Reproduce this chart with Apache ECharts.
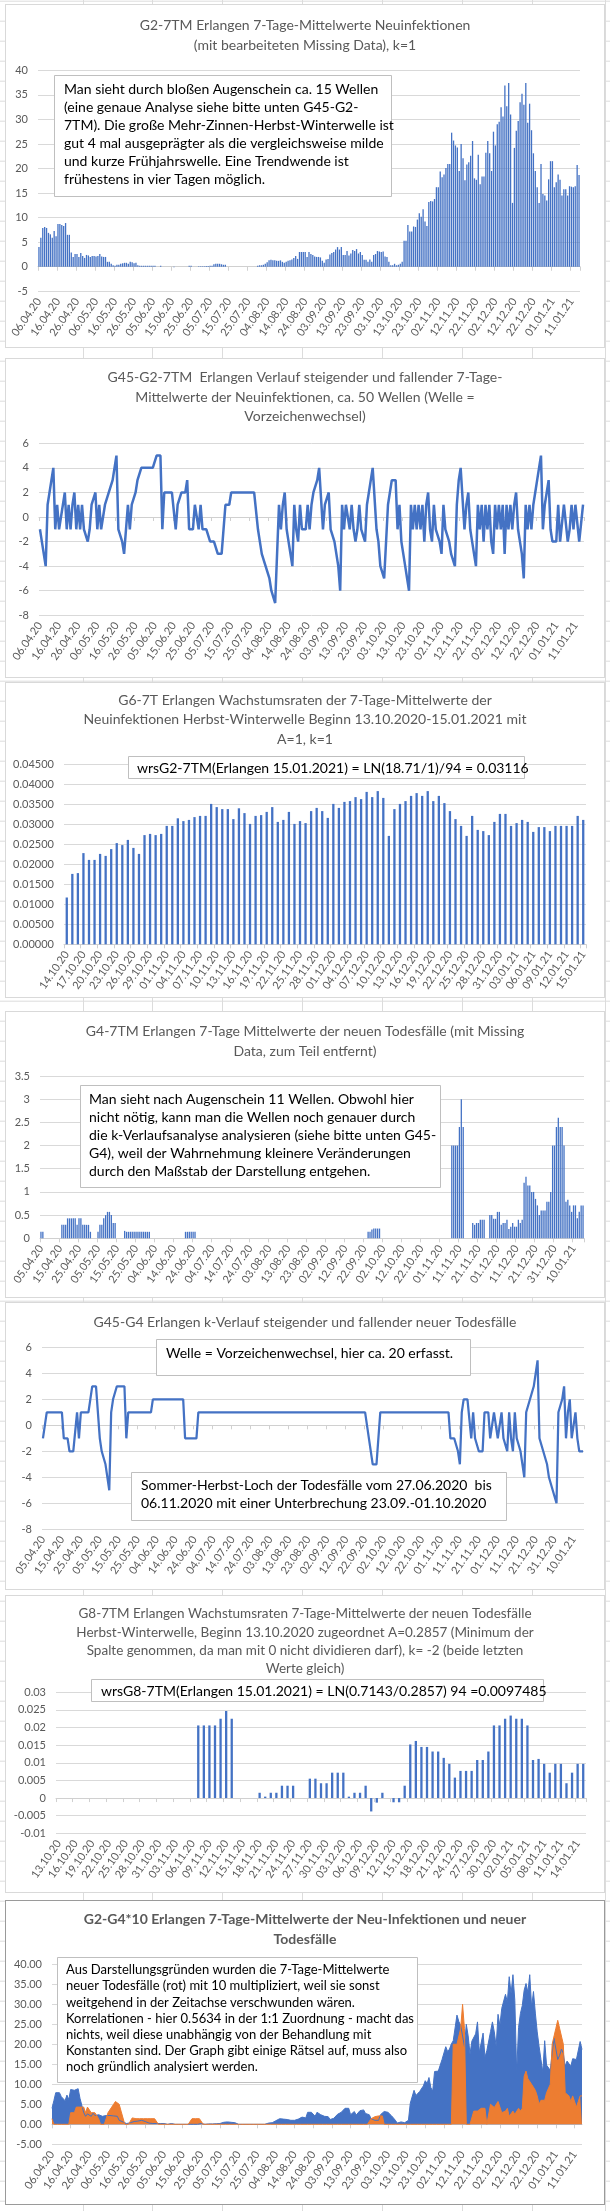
<!DOCTYPE html>
<html><head><meta charset="utf-8">
<script src="https://cdn.jsdelivr.net/npm/echarts@6/dist/echarts.min.js"></script>
<style>
html,body{margin:0;padding:0;}
body{width:610px;height:2211px;position:relative;overflow:hidden;background-color:#fff;
background-image:linear-gradient(to bottom,#dcdcdc 0,#dcdcdc 1px,transparent 1px);background-size:100% 20px;background-position:0 0.7px;}
.vl{position:absolute;top:0;width:1px;height:2211px;background:#dcdcdc;}
.panel{position:absolute;left:5px;width:600px;box-sizing:border-box;border:1px solid #d9d9d9;background:#fff;}
</style></head>
<body>
<div class="vl" style="left:83px"></div><div class="vl" style="left:152px"></div><div class="vl" style="left:222px"></div>
<div class="vl" style="left:302px"></div><div class="vl" style="left:382px"></div><div class="vl" style="left:462px"></div>
<div class="vl" style="left:532px"></div><div class="vl" style="left:605px"></div>
<div id="c1" class="panel" style="top:4px;height:344px"></div>
<div id="c2" class="panel" style="top:358px;height:320px"></div>
<div id="c3" class="panel" style="top:682px;height:316px"></div>
<div id="c4" class="panel" style="top:1011px;height:287px"></div>
<div id="c5" class="panel" style="top:1302px;height:288px"></div>
<div id="c6" class="panel" style="top:1595px;height:298px"></div>
<div id="c7" class="panel" style="top:1900px;height:305px;border-color:#9a9a9a"></div>
<script>
// ---------- DATA ----------
// G2-7TM: 7-day means of new infections, 06.04.20 - 15.01.21
const newInf = [
4.0,5.9,7.9,8.1,7.9,6.9,6.6,5.9,7.3,6.2,
8.7,8.7,8.5,8.3,8.9,6.5,6.5,2.9,2.0,2.6,
2.6,2.0,2.8,2.2,1.8,2.4,2.3,2.0,2.2,2.2,
2.1,2.2,2.6,2.1,2.0,2.0,1.0,1.0,0.6,0.3,
0.2,0.4,0.4,0.6,0.7,0.8,0.8,0.6,1.0,0.9,
0.7,0.8,0.3,0.2,0.2,0.2,0.2,0.2,0.2,0.2,
0.2,0.2,0,0,0.2,0,0,0,0,0,
0,-0.1,0,0,0,0,0,0,0,0.2,
0.2,0,0,0,0.1,0.1,0.1,0.1,0.15,0.15,
0.2,0.2,0.5,0.6,0.6,0.6,0.5,0.4,0.4,0,
0,0,0,0,0,0,0,0,0,0,
0,0,0,0,0,0.2,0.3,0.3,0.4,0.6,
0.9,1.3,1.4,1.3,1.3,1.2,1.2,1.3,1.0,0.8,
1.0,1.2,1.3,1.5,1.8,2.2,1.6,3.0,3.0,3.0,
3.0,2.0,3.0,2.6,2.4,2.1,2.0,2.0,1.9,1.2,
0.8,1.5,1.6,2.5,2.8,3.0,3.5,4.0,3.5,4.0,
2.4,2.4,3.2,2.3,2.7,3.4,3.2,3.6,2.7,3.0,
2.4,1.4,1.4,1.0,1.5,1.0,2.4,2.6,3.2,3.1,
3.0,3.1,2.1,2.0,1.0,0.3,0.3,0.6,0.3,0.4,
0.6,1.0,5.3,5.3,8.5,7.2,7.2,8.2,8.1,9.6,
10.9,10.2,11.7,9.2,8.3,13.2,13.4,13.3,13.8,16.2,
16.2,19.4,18.2,18.8,20.1,20.9,20.9,27.3,25.7,24.7,
24.3,19.5,25.0,22.1,17.6,20.8,21.3,22.6,25.6,18.0,
17.7,22.8,16.8,18.4,18.4,23.2,25.6,23.1,19.5,27.5,
24.7,29.0,29.5,32.5,30.6,36.9,32.7,37.4,31.0,13.0,
24.2,27.7,29.7,33.5,35.2,33.0,37.4,29.3,33.2,27.8,
23.1,19.5,16.2,13.0,20.9,14.8,14.5,13.5,17.8,21.5,
21.5,16.2,17.2,18.8,17.7,14.5,15.8,15.8,14.5,16.4,
16.3,16.2,16.4,20.7,18.7];

// G45-G2-7TM: k course of new infections, 06.04.20 - 15.01.21
const kInf = [
-1,-2,-3,-4,1,2,3,4,-1,1,
-1,-1,1,2,-1,1,-1,1,2,-1,
1,-1,1,-1,-1,-2,-1,1,1,2,
-1,1,-1,-1,1,1,2,2,3,4,
5,-1,-1,-2,-3,-3,1,-1,1,1,
2,3,3,4,4,4,4,4,4,4,
4,5,5,5,-1,2,2,2,2,2,
2,-1,1,1,2,2,2,3,-1,-1,
-1,1,1,-1,1,-1,-1,-1,-1,-2,
-2,-2,-2,-3,-3,-3,-3,1,1,1,
2,2,2,2,2,2,2,2,2,2,
2,2,2,2,-1,-2,-3,-3,-4,-4,
-5,-6,-6,-7,-7,1,-1,1,2,-1,
-2,-3,-4,1,-1,-2,1,-1,-1,-1,
1,-1,1,2,2,3,4,4,-1,1,
1,2,-1,-1,-2,-3,-4,-6,1,-1,
1,1,-1,1,-1,-2,-1,1,-1,-1,
-2,1,2,3,4,4,-1,-2,-4,-4,
-5,-5,1,2,3,3,3,-1,1,-2,
-3,-4,-5,-6,1,-1,1,-1,1,-1,
1,-2,1,2,-1,-2,1,-1,-1,-2,
-3,1,-1,-1,-2,-3,-3,-4,1,3,
4,4,-1,1,2,-1,-2,-3,-4,1,
-1,1,-2,1,-1,1,-2,-3,1,-1,
1,-1,1,-3,1,-1,1,-1,1,2,
-1,-2,-3,-5,1,-1,1,-1,1,2,
3,4,5,-1,1,2,3,-1,-2,-2,
-2,1,-2,-2,1,1,-2,-1,1,-1,
1,1,-2,-2,1];

// G6-7T: growth rates of new infections, 14.10.20 - 15.01.21
const wrsInf = [
0.0117,0.0176,0.0178,0.0228,0.0211,0.0211,0.0226,0.0221,0.0238,0.0253,
0.0248,0.0261,0.0241,0.0226,0.0273,0.0276,0.0273,0.0276,0.0296,0.0296,
0.0315,0.0308,0.0311,0.0318,0.0321,0.0321,0.0351,0.0343,0.0338,0.0338,
0.0313,0.0340,0.0328,0.0301,0.0321,0.0323,0.0331,0.0343,0.0306,0.0311,
0.0331,0.0301,0.0308,0.0303,0.0333,0.0341,0.0333,0.0316,0.0351,0.0341,
0.0356,0.0358,0.0368,0.0363,0.0381,0.0368,0.0383,0.0366,0.0271,0.0338,
0.0351,0.0358,0.0371,0.0378,0.0371,0.0383,0.0358,0.0371,0.0353,0.0333,
0.0313,0.0296,0.0271,0.0321,0.0286,0.0283,0.0273,0.0306,0.0326,0.0326,
0.0296,0.0303,0.0311,0.0306,0.0281,0.0293,0.0293,0.0283,0.0296,0.0296,
0.0296,0.0296,0.0321,0.0311];

// G4-7TM: 7-day means of new deaths, 05.04.20 - 15.01.21
const deaths = [
0.14,0.14,0,0,0,0,0,0,0,0,
0,0.29,0.29,0.29,0.43,0.43,0.43,0.43,0.43,0.29,
0.43,0.43,0.29,0.29,0.29,0.29,0.14,0,0,0,
0.14,0.29,0.29,0.43,0.5,0.57,0.57,0.5,0.33,0.33,
0,0,0,0,0.16,0.14,0.14,0.14,0.14,0.14,
0.14,0.14,0.14,0.14,0.14,0.14,0.14,0.14,0,0,
0,0,0,0,0,0,0,0,0,0,
0,0,0,0,0,0,0.14,0.14,0.14,0.14,
0.14,0.14,0,0,0,0,0,0,0,0,
0,0,0,0,0,0,0,0,0,0,
0,0,0,0,0,0,0,0,0,0,
0,0,0,0,0,0,0,0,0,0,
0,0,0,0,0,0,0,0,0,0,
0,0,0,0,0,0,0,0,0,0,
0,0,0,0,0,0,0,0,0,0,
0,0,0,0,0,0,0,0,0,0,
0,0,0,0,0,0,0,0,0,0,
0,0,0.14,0.14,0.19,0.21,0.21,0.21,0.21,0,
0,0,0,0,0,0,0,0,0,0,
0,0,0,0,0,0,0,0,0,0,
0,0,0,0,0,0,0,0,0,0,
0,0,0,0,0,0,2.0,2.0,2.0,2.0,
2.4,3.0,2.4,0,0,0,0,0.33,0.29,0.33,
0.33,0.4,0.4,0.4,0,0,0.5,0.5,0.42,0.42,
0.57,0.57,0.29,0.33,0.33,0.4,0.2,0.25,0.33,0.25,
0.25,0.4,0.33,0.4,1.2,1.33,1.14,1.14,1.0,1.0,
0.85,0.71,0.5,0.6,0.6,0.6,0.79,0.79,1.0,2.0,
2.0,2.4,2.6,2.4,2.4,2.0,0.79,0.83,0.71,0.57,
0.71,0.71,0.43,0.57,0.71,0.71];

// G45-G4: k course of deaths, 05.04.20 - 15.01.21
const kDeaths = [
-1,-1,1,1,1,1,1,1,1,1,
1,-1,-1,-1,-2,-2,-2,-2,1,-1,
1,1,1,1,1,2,3,3,3,3,
-1,-2,-2,-3,-4,-5,1,2,2,3,
3,3,3,3,-1,1,1,1,1,1,
1,1,1,1,1,1,1,1,2,2,
2,2,2,2,2,2,2,2,2,2,
2,2,2,2,2,-1,-1,-1,-1,-1,
-1,-1,1,1,1,1,1,1,1,1,
1,1,1,1,1,1,1,1,1,1,
1,1,1,1,1,1,1,1,1,1,
1,1,1,1,1,1,1,1,1,1,
1,1,1,1,1,1,1,1,1,1,
1,1,1,1,1,1,1,1,1,1,
1,1,1,1,1,1,1,1,1,1,
1,1,1,1,1,1,1,1,1,1,
1,1,1,1,1,1,1,1,1,1,
1,1,-1,-2,-3,-3,-3,-3,1,1,
1,1,1,1,1,1,1,1,1,1,
1,1,1,1,1,1,1,1,1,1,
1,1,1,1,1,1,1,1,1,1,
1,1,1,1,1,-1,-1,-1,-1,-2,
-3,1,2,2,2,2,-1,1,-1,-1,
-2,-2,-2,1,1,1,-1,-1,1,1,
-1,-1,1,-1,-1,-2,1,-1,-2,1,
-1,-1,-2,-3,-4,1,1,2,2,3,
4,5,-1,-1,-2,-2,-3,-4,-4,-5,
-5,-6,1,1,2,3,-1,1,2,-1,
-1,1,-1,-2,-2,-2];

// G8-7TM: growth rates of deaths, 13.10.20 - 15.01.21
const wrsDeaths = [
0,0,0,0,0,0,0,0,0,0,
0,0,0,0,0,0,0,0,0,0,
0,0,0,0,0,0.0206,0.0206,0.0206,0.0206,0.0225,
0.0247,0.0225,0,0,0,0,0.0015,0.0004,0.0015,0.0015,
0.0035,0.0035,0.0035,0,0,0.0055,0.0055,0.0042,0.0042,0.0072,
0.0072,0.0072,0.0004,0.0015,0.0015,0.0035,-0.0038,-0.0013,0.0015,0,
-0.0012,-0.0012,0.0035,0.0152,0.0162,0.0145,0.0145,0.0132,0.0132,0.0114,
0.0097,0.0058,0.0077,0.0077,0.0077,0.0108,0.0108,0.0132,0.0206,0.0206,
0.0225,0.0234,0.0225,0.0225,0.0206,0.0108,0.0111,0.0097,0.0072,0.0097,
0.0097,0.0042,0.0072,0.0097,0.0097];

// G4*10 aligned to 06.04.20 start (deaths × 10, as in chart title)
const deathsX10 = deaths.slice(1).map(v => +(v * 10).toFixed(2));

function mkDates(y, m, d, n) {
  const out = [];
  for (let i = 0; i < n; i++) {
    const t = new Date(Date.UTC(y, m - 1, d + i));
    out.push(String(t.getUTCDate()).padStart(2, '0') + '.' +
             String(t.getUTCMonth() + 1).padStart(2, '0') + '.' +
             String(t.getUTCFullYear()).slice(2));
  }
  return out;
}
const cat0604 = mkDates(2020, 4, 6, newInf.length);
const cat0504 = mkDates(2020, 4, 5, deaths.length);
const cat1410 = mkDates(2020, 10, 14, wrsInf.length);
const cat1310 = mkDates(2020, 10, 13, wrsDeaths.length);

// ---------- STYLE HELPERS ----------
const FONT = 'Lato, "Liberation Sans", sans-serif';
const GRAY = '#595959';
const BLUE = '#4472C4';
const ORANGE = '#ED7D31';
const ROT = 55;

function xAxes(cats, iv, boundaryGap) {
  return [{
    type: 'category', data: cats, boundaryGap: boundaryGap, position: 'bottom',
    axisLine: {show: false, onZero: false}, axisTick: {show: false},
    axisLabel: {interval: iv, rotate: ROT, color: GRAY, fontFamily: FONT, fontSize: 11, margin: 8},
    splitLine: {show: false}
  }, {
    type: 'category', data: cats, boundaryGap: boundaryGap, position: 'bottom',
    axisLine: {show: true, onZero: true, lineStyle: {color: '#d0d0d0', width: 1}},
    axisTick: {show: true, interval: iv, length: 4, lineStyle: {color: '#d0d0d0'}},
    axisLabel: {show: false}, splitLine: {show: false}
  }];
}
function yAx(min, max, interval, fmt) {
  return {type: 'value', min: min, max: max, interval: interval,
    axisLine: {show: false}, axisTick: {show: false},
    splitLine: {lineStyle: {color: '#d9d9d9', width: 1}},
    axisLabel: {color: GRAY, fontFamily: FONT, fontSize: 11, margin: 10, formatter: fmt}};
}
function ttl(text, top, lh, fs, bold) {
  return {text: text, left: 'center', top: top, padding: 0, itemGap: 0,
    textStyle: {fontFamily: FONT, fontSize: fs || 14, fontWeight: bold ? 'bold' : 'normal', color: GRAY, lineHeight: lh}};
}
function box(x, y, w, h, tx, ty, text, fs, lh) {
  return [
    {type: 'rect', z: 100, shape: {x: x + 0.5, y: y + 0.5, width: w, height: h},
     style: {fill: '#fff', stroke: '#bfbfbf', lineWidth: 1}},
    {type: 'text', z: 101, x: tx, y: ty,
     style: {text: text, fill: '#000', font: fs + 'px ' + FONT, lineHeight: lh, verticalAlign: 'top'}}
  ];
}
function mk(id, opt) {
  const c = echarts.init(document.getElementById(id), null, {renderer: 'canvas'});
  opt.animation = false;
  c.setOption(opt);
}
const f0 = v => String(v);

// ---------- PANEL 1 ----------
mk('c1', {
  title: ttl('G2-7TM Erlangen 7-Tage-Mittelwerte Neuinfektionen\n(mit bearbeiteten Missing Data), k=1', 10, 20),
  grid: {left: 32, top: 65.3, width: 542, height: 221},
  xAxis: xAxes(cat0604, 9, true),
  yAxis: yAx(-5, 40, 5, f0),
  series: [{type: 'bar', data: newInf, barWidth: 1.3, itemStyle: {color: BLUE}}],
  graphic: box(48, 70, 337, 121, 58, 75.5,
    'Man sieht durch bloßen Augenschein ca. 15 Wellen\n(eine genaue Analyse siehe bitte unten G45-G2-\n7TM). Die große Mehr-Zinnen-Herbst-Winterwelle ist\ngut 4 mal ausgeprägter als die vergleichsweise milde\nund kurze Frühjahrswelle. Eine Trendwende ist\nfrühestens in vier Tagen möglich.', 14, 18)
});

// ---------- PANEL 2 ----------
mk('c2', {
  title: ttl('G45-G2-7TM  Erlangen Verlauf steigender und fallender 7-Tage-\nMittelwerte der Neuinfektionen, ca. 50 Wellen (Welle =\nVorzeichenwechsel)', 9, 19.5),
  grid: {left: 33, top: 84.3, width: 545, height: 172},
  xAxis: xAxes(cat0604, 9, true),
  yAxis: yAx(-8, 6, 2, f0),
  series: [{type: 'line', data: kInf, symbol: 'none', lineStyle: {color: BLUE, width: 2.5}, itemStyle: {color: BLUE}}]
});

// ---------- PANEL 3 ----------
mk('c3', {
  title: ttl('G6-7T Erlangen Wachstumsraten der 7-Tage-Mittelwerte der\nNeuinfektionen Herbst-Winterwelle Beginn 13.10.2020-15.01.2021 mit\nA=1, k=1', 7.3, 19.5),
  grid: {left: 58, top: 81.3, width: 522, height: 180},
  xAxis: xAxes(cat1410, 2, true),
  yAxis: yAx(0, 0.045, 0.005, v => v.toFixed(5)),
  series: [{type: 'bar', data: wrsInf, barWidth: 2.3, itemStyle: {color: BLUE}}],
  graphic: box(122, 73, 396, 22, 131, 76, 'wrsG2-7TM(Erlangen 15.01.2021) = LN(18.71/1)/94 = 0.03116', 14, 18)
});

// ---------- PANEL 4 ----------
mk('c4', {
  title: ttl('G4-7TM Erlangen 7-Tage Mittelwerte der neuen Todesfälle (mit Missing\nData, zum Teil entfernt)', 9, 20),
  grid: {left: 34, top: 64, width: 544, height: 162.3},
  xAxis: xAxes(cat0504, 9, true),
  yAxis: yAx(0, 3.5, 0.5, f0),
  series: [{type: 'bar', data: deaths, barWidth: 1.3, itemStyle: {color: BLUE}}],
  graphic: box(74, 73, 360, 102, 83, 78.3,
    'Man sieht nach Augenschein 11 Wellen. Obwohl hier\nnicht nötig, kann man die Wellen noch genauer durch\ndie k-Verlaufsanalyse analysieren (siehe bitte unten G45-\nG4), weil der Wahrnehmung kleinere Veränderungen\ndurch den Maßstab der Darstellung entgehen.', 14, 18)
});

// ---------- PANEL 5 ----------
mk('c5', {
  title: ttl('G45-G4 Erlangen k-Verlauf steigender und fallender neuer Todesfälle', 9, 20),
  grid: {left: 36, top: 44.3, width: 542, height: 182},
  xAxis: xAxes(cat0504, 9, true),
  yAxis: yAx(-8, 6, 2, f0),
  series: [{type: 'line', data: kDeaths, symbol: 'none', lineStyle: {color: BLUE, width: 2.25}, itemStyle: {color: BLUE}}],
  graphic: box(150, 36, 314, 36, 160, 41, 'Welle = Vorzeichenwechsel, hier ca. 20 erfasst.', 14, 18)
    .concat(box(125, 169, 375, 48, 135, 173, 'Sommer-Herbst-Loch der Todesfälle vom 27.06.2020  bis\n06.11.2020 mit einer Unterbrechung 23.09.-01.10.2020', 14, 18))
});

// ---------- PANEL 6 ----------
mk('c6', {
  title: ttl('G8-7TM Erlangen Wachstumsraten 7-Tage-Mittelwerte der neuen Todesfälle\nHerbst-Winterwelle, Beginn 13.10.2020 zugeordnet A=0.2857 (Minimum der\nSpalte genommen, da man mit 0 nicht dividieren darf), k= -2 (beide letzten\nWerte gleich)', 9, 18.1, 13.5),
  grid: {left: 50, top: 96.3, width: 530, height: 141},
  xAxis: xAxes(cat1310, 2, true),
  yAxis: yAx(-0.01, 0.03, 0.005, v => String(+v.toFixed(3))),
  series: [{type: 'bar', data: wrsDeaths, barWidth: 2.3, itemStyle: {color: BLUE}}],
  graphic: box(85, 83, 452, 22, 95, 86, 'wrsG8-7TM(Erlangen 15.01.2021) = LN(0.7143/0.2857) 94 =0.0097485', 14, 18)
});

// ---------- PANEL 7 ----------
mk('c7', {
  title: ttl('G2-G4*10 Erlangen 7-Tage-Mittelwerte der Neu-Infektionen und neuer\nTodesfälle', 8.3, 20, 14, true),
  grid: {left: 46, top: 63.3, width: 530, height: 180},
  xAxis: xAxes(cat0604, 9, false),
  yAxis: yAx(-5, 40, 5, v => v.toFixed(2)),
  series: [
    {type: 'line', data: newInf, symbol: 'none', lineStyle: {color: BLUE, width: 1}, itemStyle: {color: BLUE},
     areaStyle: {color: BLUE, opacity: 1}},
    {type: 'line', data: deathsX10, symbol: 'none', lineStyle: {color: ORANGE, width: 1}, itemStyle: {color: ORANGE},
     areaStyle: {color: ORANGE, opacity: 1}}
  ],
  graphic: box(51, 56, 360, 125, 60, 61,
    'Aus Darstellungsgründen wurden die 7-Tage-Mittelwerte\nneuer Todesfälle (rot) mit 10 multipliziert, weil sie sonst\nweitgehend in der Zeitachse verschwunden wären.\nKorrelationen - hier 0.5634 in der 1:1 Zuordnung - macht das\nnichts, weil diese unabhängig von der Behandlung mit\nKonstanten sind. Der Graph gibt einige Rätsel auf, muss also\nnoch gründlich analysiert werden.', 13, 16.2)
});
</script>
</body></html>
